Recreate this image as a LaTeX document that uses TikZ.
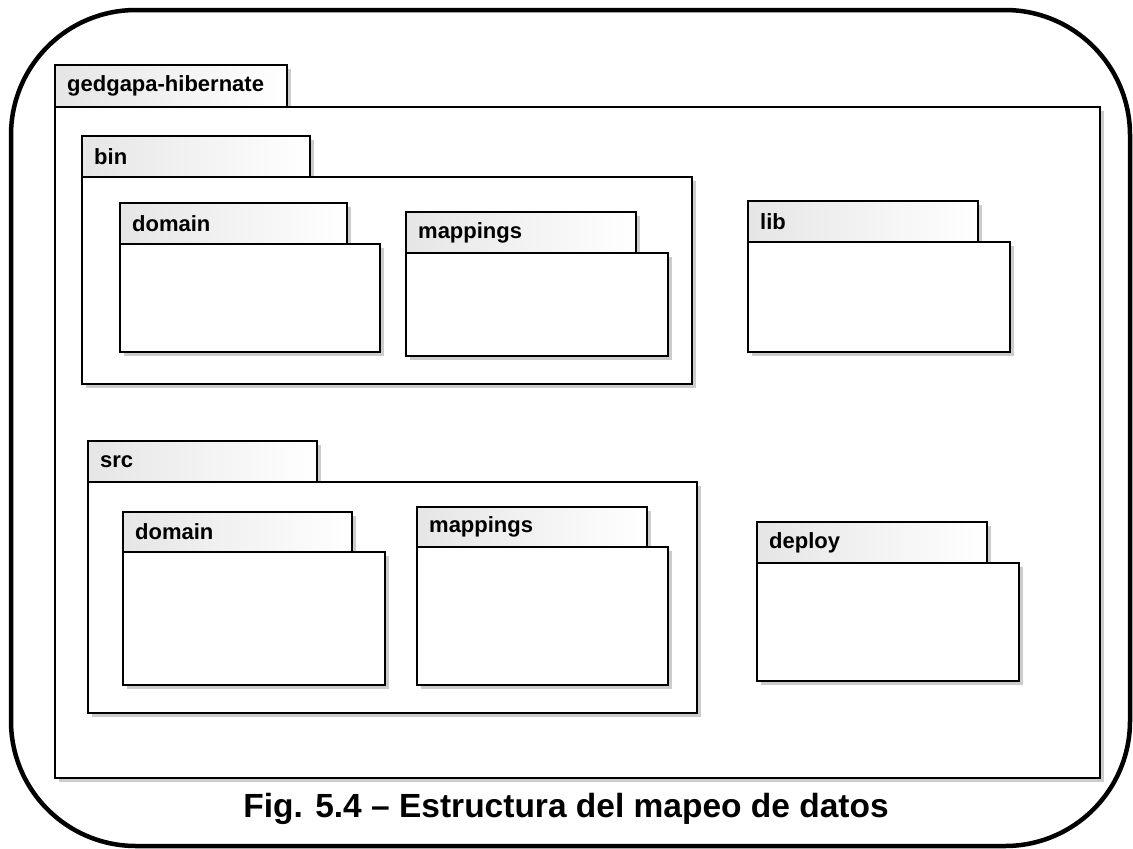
\documentclass[tikz,border=0pt]{standalone}
\usepackage{fontspec}
\setmainfont{Liberation Sans}
\usepackage{tikz}
\usetikzlibrary{positioning}
\tikzset{
    pkgline/.style={draw=black, line width=2pt},
    pkgshadow/.style={fill=black!20},
    tabfill/.style={pkgline, left color=black!10, middle color=white, right color=white},
    pkglabel/.style={anchor=west, inner sep=0pt, font=\fontsize{22}{24}\selectfont\bfseries},
    figframe/.style={draw=black, line width=4.5pt, rounded corners=125pt}
}
% #1 name, #2 label, #3 left, #4 tab top, #5 tab right, #6 body top, #7 body right, #8 body bottom
\newcommand{\pkgbox}[8]{%
    \fill[pkgshadow] (#3+4,#4+4) rectangle (#5+4,#6+4);
    \fill[pkgshadow] (#3+4,#6+4) rectangle (#7+4,#8+4);
    \shadedraw[tabfill] (#3,#4) rectangle (#5,#6);
    \draw[pkgline, fill=white] (#3,#6) rectangle (#7,#8);
    \node[pkglabel] (#1) at ({#3+12},{(#4+#6)/2}) {#2};
}
\begin{document}
\begin{tikzpicture}[x=1pt, y=-1pt]
    \useasboundingbox (0,0) rectangle (1133,849);
    \draw[figframe] (11,10) rectangle (1130,846);
    \pkgbox{hibernate}{gedgapa-hibernate}{55}{65}{287}{107}{1100}{778}
    \pkgbox{bin}{bin}{82}{136}{310}{177}{692}{384}
    \pkgbox{bindomain}{domain}{120}{203}{347}{244}{380}{352}
    \pkgbox{binmappings}{mappings}{406}{212}{636}{253}{668}{356}
    \pkgbox{lib}{lib}{748}{201}{978}{242}{1010}{352}
    \pkgbox{src}{src}{88}{441}{317}{482}{697}{713}
    \pkgbox{srcdomain}{domain}{123}{512}{352}{552}{385}{685}
    \pkgbox{srcmappings}{mappings}{417}{507}{647}{547}{668}{685}
    \pkgbox{deploy}{deploy}{757}{522}{987}{563}{1019}{681}
    \node[font=\fontsize{33.5}{36}\selectfont\bfseries] (caption) at (566,809)
        {Fig. 5.4 -- Estructura del mapeo de datos};
\end{tikzpicture}
\end{document}
